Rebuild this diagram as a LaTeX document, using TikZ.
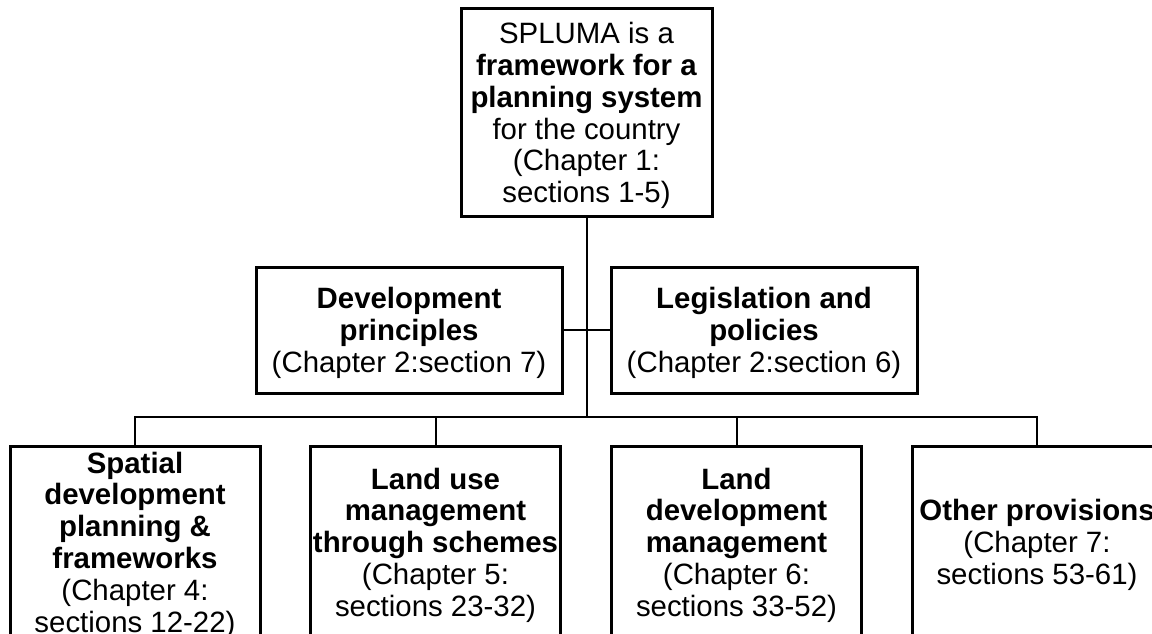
\documentclass[tikz,border=0pt]{standalone}
\usepackage{fontspec}
\setmainfont{Liberation Sans}
\usetikzlibrary{positioning}

\tikzset{
  orgbox/.style={draw=black,line width=3pt,fill=white,align=center,inner sep=0pt,font=\fontsize{29.4}{31.8}\selectfont},
  topbox/.style={orgbox,minimum width=251pt,minimum height=207pt},
  midbox/.style={orgbox,minimum width=306pt,minimum height=126pt},
  lowbox/.style={orgbox,minimum width=250pt,minimum height=197pt},
  link/.style={line width=2pt},
}

\begin{document}
\begin{tikzpicture}[x=1pt,y=-1pt]
\clip (0,0) rectangle (1152,634);
% act and its two general parts
\node[topbox,text depth=0pt] (act) at (586.5,112.5) {SPLUMA is a\\\textbf{framework for a}\\\textbf{planning system}\\for the country\\(Chapter 1:\\sections 1-5)};
\node[midbox,text depth=0pt] (principles) at (409,330) {\textbf{Development}\\\textbf{principles}\\(Chapter 2:section 7)};
\node[midbox,text depth=0pt] (policies) at (764,330) {\textbf{Legislation and}\\\textbf{policies}\\(Chapter 2:section 6)};
% chapters 4 to 7
\node[lowbox,anchor=north] (sdf) at (135,445) {\textbf{Spatial}\\\textbf{development}\\\textbf{planning \&}\\\textbf{frameworks}\\(Chapter 4:\\sections 12-22)};
\node[lowbox,anchor=north] (lum) at (435.5,445) {\textbf{Land use}\\\textbf{management}\\\textbf{through schemes}\\(Chapter 5:\\sections 23-32)};
\node[lowbox,anchor=north] (ldm) at (736.5,445) {\textbf{Land}\\\textbf{development}\\\textbf{management}\\(Chapter 6:\\sections 33-52)};
\node[lowbox,anchor=north] (other) at (1037,445) {\textbf{Other provisions}\\(Chapter 7:\\sections 53-61)};
% tree lines
\coordinate (hub) at (act.south |- 0,417);
\draw[link] (act.south) -- (hub);
\draw[link] (principles.east) -- (policies.west);
\draw[link] (sdf.north) |- (hub) -| (other.north);
\draw[link] (lum.north) -- (lum.north |- hub);
\draw[link] (ldm.north) -- (ldm.north |- hub);
\end{tikzpicture}
\end{document}
